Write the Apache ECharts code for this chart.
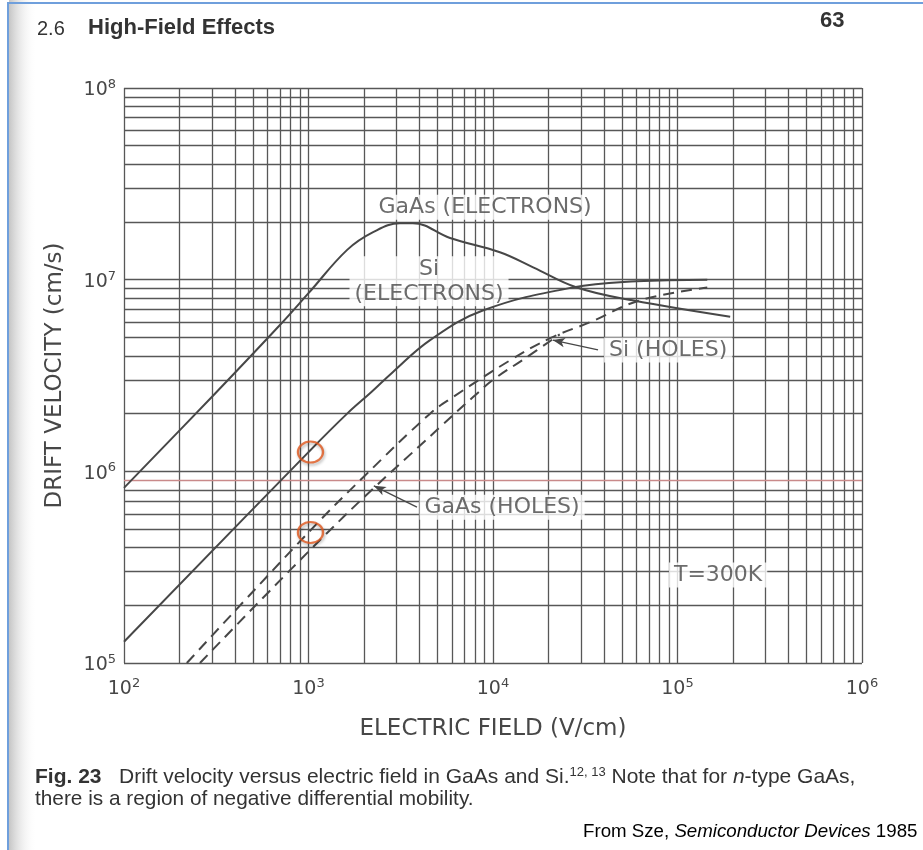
<!DOCTYPE html>
<html>
<head>
<meta charset="utf-8">
<script src="https://cdn.jsdelivr.net/npm/echarts@6/dist/echarts.min.js"></script>
<style>
html, body { margin: 0; padding: 0; background: #fff; }
#chart { width: 923px; height: 850px; }
</style>
</head>
<body>
<div id="chart"></div>
<script>
// drift velocity (cm/s) vs electric field (V/cm)
var gaasElectrons = [[100, 8.2e5], [300, 2.45e6], [700, 5.8e6], [1000, 8.5e6], [1620, 1.43e7],
  [2240, 1.77e7], [3130, 1.97e7], [3680, 1.97e7], [5850, 1.65e7], [1.09e4, 1.39e7],
  [1.65e4, 1.16e7], [2.85e4, 9.1e6], [5.7e4, 7.8e6], [1.93e5, 6.4e6]];
var siElectrons = [[100, 1.29e5], [1000, 1.26e6], [1620, 2.0e6], [2200, 2.6e6], [2870, 3.3e6],
  [4560, 4.84e6], [8800, 6.9e6], [2.7e4, 9.1e6], [6e4, 9.8e6], [1.45e5, 1.0e7]];
var siHoles = [[219, 1.0e5], [1020, 4.9e5], [2000, 9.4e5], [4560, 2.0e6], [6070, 2.44e6],
  [1.24e4, 3.8e6], [2.04e4, 4.95e6], [3.36e4, 6.0e6], [6.26e4, 7.8e6], [1.45e5, 9.1e6]];
var gaasHoles = [[258, 1.0e5], [1430, 5.37e5], [5160, 1.7e6], [7800, 2.44e6], [1e4, 3.0e6],
  [1.5e4, 3.9e6], [2.3e4, 5.18e6]];

var xDecades = [1e2, 1e3, 1e4, 1e5, 1e6];
var yDecades = [1e5, 1e6, 1e7, 1e8];
var minorSteps = [2, 3, 4, 5, 6, 7, 8, 9];

var curveLabels = [
  { name: 'GaAs (ELECTRONS)', value: [9.06e3, 2.39e7] },
  { name: 'Si\n(ELECTRONS)', value: [4.5e3, 9.8e6] },
  { name: 'Si (HOLES)', value: [8.9e4, 4.3e6] },
  { name: 'GaAs (HOLES)', value: [1.12e4, 6.5e5] },
  { name: 'T=300K', value: [1.66e5, 2.88e5] }
];
var leaders = [
  [[3.71e4, 4.3e6], [2.11e4, 4.84e6]],
  [[3.87e3, 6.5e5], [2.26e3, 8.4e5]]
];
var circled = [[1025, 1.26e6], [1025, 4.8e5]];
var redLine = 9e5;

var ink = '#474747';
var face = 'DejaVu Sans';

var gridLines = [];
xDecades.forEach(function (d) {
  gridLines.push({ xAxis: d });
  if (d < 1e6) minorSteps.forEach(function (m) { gridLines.push({ xAxis: d * m }); });
});
yDecades.forEach(function (d) {
  gridLines.push({ yAxis: d });
  if (d < 1e8) minorSteps.forEach(function (m) {
    var v = d * m;
    if (v === redLine) gridLines.push({ yAxis: v, lineStyle: { color: '#c98a8a' } });
    else gridLines.push({ yAxis: v });
  });
});

function powLabel(v) {
  var e = Math.round(Math.log10(v));
  return '{b|10}{s|' + e + '}';
}
var powRich = {
  b: { fontFamily: face, fontSize: 19, color: ink, verticalAlign: 'bottom', lineHeight: 24 },
  s: { fontFamily: face, fontSize: 13, color: ink, verticalAlign: 'bottom', lineHeight: 24, padding: [0, 0, 9, 0] }
};

var chart = echarts.init(document.getElementById('chart'));

var option = {
  backgroundColor: '#fff',
  animation: false,
  grid: { left: 124, right: 61, top: 88, bottom: 187 },
  xAxis: {
    type: 'log', logBase: 10, min: 100, max: 1e6, splitNumber: 4,
    axisLine: { show: false }, axisTick: { show: false }, splitLine: { show: false },
    axisLabel: { formatter: powLabel, rich: powRich, margin: 12 },
    name: 'ELECTRIC FIELD (V/cm)', nameLocation: 'middle', nameGap: 55,
    nameTextStyle: { fontFamily: face, fontSize: 23, color: ink }
  },
  yAxis: {
    type: 'log', logBase: 10, min: 1e5, max: 1e8, splitNumber: 3,
    axisLine: { show: false }, axisTick: { show: false }, splitLine: { show: false },
    axisLabel: { formatter: powLabel, rich: powRich, margin: 8 },
    name: 'DRIFT VELOCITY (cm/s)', nameLocation: 'middle', nameGap: 57,
    nameTextStyle: { fontFamily: face, fontSize: 23, color: ink }
  },
  graphic: [
    { type: 'rect', z: 100, silent: true, shape: { x: 9, y: 0, width: 28, height: 850 },
      style: { fill: new echarts.graphic.LinearGradient(0, 0, 1, 0, [
        { offset: 0, color: 'rgba(150,150,150,0.55)' }, { offset: 1, color: 'rgba(255,255,255,0)' }]) } },
    { type: 'rect', z: 101, silent: true, shape: { x: 8, y: 3, width: 930, height: 860 },
      style: { fill: 'none', stroke: '#6f9fdc', lineWidth: 2 } },
    { type: 'text', left: 37, top: 19, style: { text: '2.6', font: '20px "Liberation Sans"', fill: '#333' } },
    { type: 'text', left: 88, top: 17, style: { text: 'High-Field Effects', font: 'bold 22px "Liberation Sans"', fill: '#333' } },
    { type: 'text', left: 820, top: 10, style: { text: '63', font: 'bold 22px "Liberation Sans"', fill: '#333' } },
    { type: 'text', left: 35, top: 766, style: {
      text: '{b|Fig. 23}   Drift velocity versus electric field in GaAs and Si.{s|12, 13} Note that for {i|n}-type GaAs,',
      font: '21px "Liberation Sans"', fill: '#333',
      rich: {
        b: { fontFamily: 'Liberation Sans', fontWeight: 'bold', fontSize: 21, fill: '#333' },
        s: { fontFamily: 'Liberation Sans', fontSize: 13, fill: '#333', padding: [0, 0, 10, 0] },
        i: { fontFamily: 'Liberation Sans', fontStyle: 'italic', fontSize: 21, fill: '#333' }
      } } },
    { type: 'text', left: 35, top: 789, style: { text: 'there is a region of negative differential mobility.',
      font: '20.8px "Liberation Sans"', fill: '#333' } },
    { type: 'text', left: 583, top: 822, style: {
      text: 'From Sze, {i|Semiconductor Devices} 1985', font: '18.7px "Liberation Sans"', fill: '#000',
      rich: { i: { fontFamily: 'Liberation Sans', fontStyle: 'italic', fontSize: 18.7, fill: '#000' } } } }
  ],
  series: [
    {
      name: 'grid', type: 'line', data: [], silent: true,
      markLine: {
        z: 1, silent: true, symbol: ['none', 'none'], label: { show: false },
        lineStyle: { color: '#575757', width: 1.3, type: 'solid' },
        emphasis: { disabled: true },
        data: gridLines
      }
    },
    {
      name: 'labels', type: 'scatter', z: 3, symbolSize: 0, silent: true,
      data: curveLabels,
      label: {
        show: true, position: 'inside', formatter: '{b}', fontFamily: face, fontSize: 22,
        color: ink, backgroundColor: '#fff', padding: [0, 5], lineHeight: 25, align: 'center'
      },
      markLine: {
        z: 4, silent: true, symbol: ['none', 'arrow'], symbolSize: [7, 12], label: { show: false },
        lineStyle: { color: ink, width: 1.3, type: 'solid' },
        data: leaders.map(function (p) { return [{ coord: p[0] }, { coord: p[1] }]; })
      }
    },
    { name: 'GaAs electrons', type: 'line', z: 5, smooth: 0.4, showSymbol: false,
      data: gaasElectrons, lineStyle: { color: ink, width: 2 } },
    { name: 'Si electrons', type: 'line', z: 5, smooth: 0.4, showSymbol: false,
      data: siElectrons, lineStyle: { color: ink, width: 2 } },
    { name: 'Si holes', type: 'line', z: 5, smooth: 0.4, showSymbol: false,
      data: siHoles, lineStyle: { color: ink, width: 2, type: [11, 7] } },
    { name: 'GaAs holes', type: 'line', z: 5, smooth: 0.4, showSymbol: false,
      data: gaasHoles, lineStyle: { color: ink, width: 2, type: [11, 7] } },
    { name: 'marks', type: 'scatter', z: 6, symbol: 'circle', symbolSize: [25, 21], silent: true,
      data: circled,
      itemStyle: { color: 'rgba(0,0,0,0)', borderColor: '#e0561c', borderWidth: 2.2,
        shadowBlur: 3, shadowColor: 'rgba(0,0,0,0.35)', shadowOffsetX: 1, shadowOffsetY: 2 } }
  ]
};

chart.setOption(option);

window.addEventListener('resize', function () {
  chart.resize();
});
</script>
</body>
</html>
